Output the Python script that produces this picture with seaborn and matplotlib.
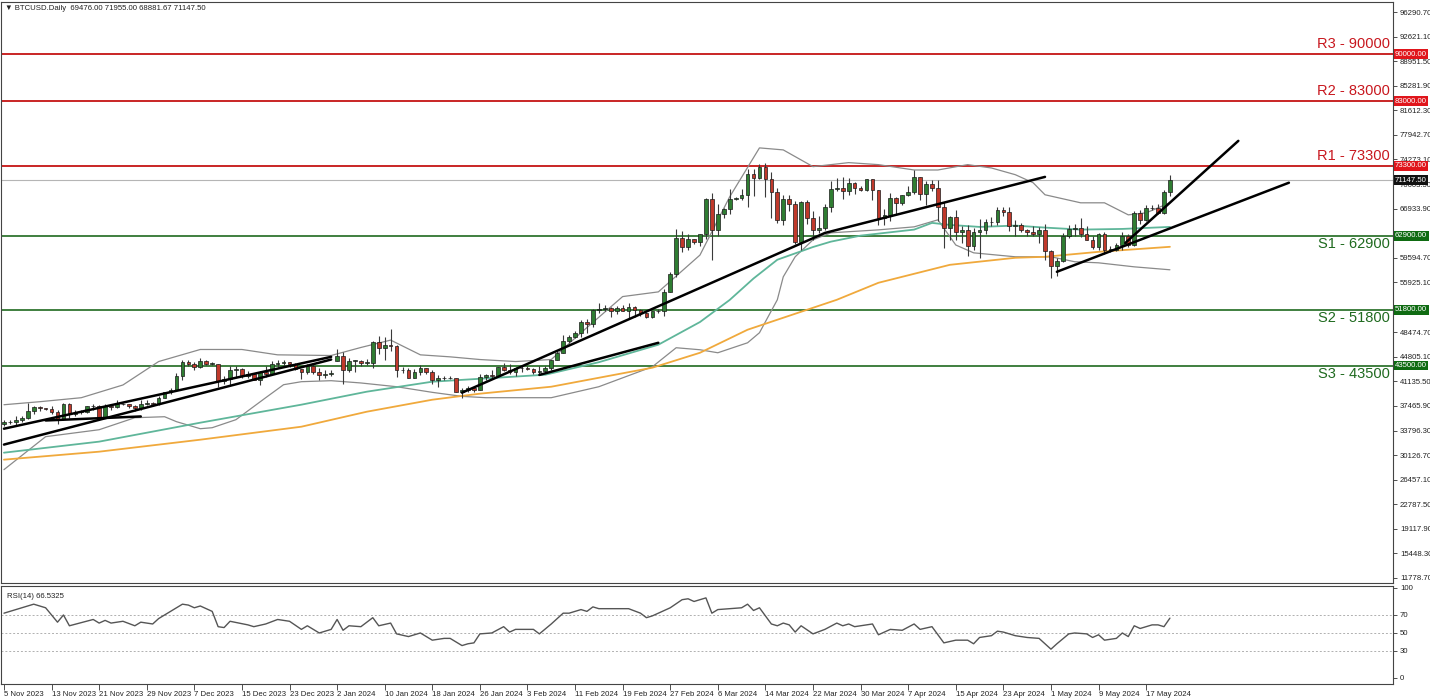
# BTCUSD daily chart with support / resistance levels, Bollinger bands, MAs and RSI(14)

import numpy as np
import pandas as pd
import matplotlib
matplotlib.use('Agg')
import matplotlib.pyplot as plt
import seaborn as sns

# daily bars 5 Nov 2023 - 21 May 2024, the feed has no bar on 25 Dec and 1 Jan
dates = pd.date_range('2023-11-05', '2024-05-21', freq='D')
dates = dates[~dates.isin(pd.to_datetime(['2023-12-25', '2024-01-01']))]

# prices in thousands of USD, by month
opens = [34.7, 35.0, 35.0, 35.4, 35.6, 36.7, 37.3, 37.1, 37.0, 36.5, 35.5, 37.8, 36.2, 36.6, 36.6, 37.4, 37.5, 35.8, 37.4, 37.3, 37.7, 37.8, 37.5, 37.2, 37.8, 37.9,
         37.7, 38.7, 39.5, 39.9, 41.9, 44.1, 43.8, 43.3, 44.2, 43.8, 43.8, 41.2, 41.5, 42.9, 43.0, 41.9, 42.3, 41.4, 42.6, 42.3, 43.7, 43.9, 44.0, 43.7, 43.0, 42.5, 43.4, 42.6, 42.1, 42.3,
         44.2, 45.0, 42.8, 44.2, 44.2, 43.9, 43.9, 47.0, 46.1, 46.6, 46.4, 42.9, 42.8, 41.7, 42.5, 43.2, 42.6, 41.3, 41.6, 41.7, 41.6, 39.5, 39.9, 40.1, 39.9, 41.8, 42.1, 42.0, 43.3, 42.9,
         42.6, 43.1, 43.2, 43.0, 42.6, 42.7, 43.1, 44.3, 45.3, 47.1, 47.8, 48.3, 50.0, 49.7, 51.8, 52.0, 52.1, 51.6, 52.1, 51.7, 52.2, 51.8, 51.3, 50.7, 51.6, 51.7, 54.5, 57.1, 62.5,
         61.2, 62.4, 62.0, 63.1, 68.3, 63.8, 66.1, 66.9, 68.3, 68.5, 69.0, 72.1, 71.5, 73.1, 71.4, 69.4, 65.3, 68.4, 67.6, 61.9, 67.9, 65.5, 63.8, 64.0, 67.2, 69.9, 70.0, 69.5, 70.8, 70.0, 69.7,
         71.3, 69.7, 65.5, 66.0, 68.5, 67.8, 68.9, 69.4, 71.6, 69.1, 70.6, 70.0, 67.1, 64.0, 65.7, 63.4, 63.8, 61.3, 63.5, 63.8, 64.9, 64.9, 66.8, 66.4, 64.3, 64.5, 63.8, 63.4, 63.1, 63.8,
         60.6, 58.3, 59.1, 62.9, 63.9, 64.0, 63.1, 62.3, 61.2, 63.1, 60.8, 60.8, 61.5, 62.9, 61.5, 66.3, 65.2, 67.0, 67.0, 66.3, 69.476]
highs = [35.3, 35.3, 35.9, 35.9, 37.9, 37.5, 37.4, 37.2, 37.4, 36.8, 37.9, 37.9, 36.8, 36.8, 37.5, 37.8, 37.6, 37.8, 37.7, 38.4, 37.9, 37.8, 37.6, 38.4, 38.4, 38.1,
         38.9, 39.6, 40.2, 42.4, 44.4, 44.3, 44.0, 44.7, 44.4, 44.1, 43.8, 42.0, 43.4, 43.4, 43.1, 42.7, 42.4, 42.7, 43.4, 44.2, 44.3, 44.4, 44.0, 43.9, 43.0, 43.7, 43.8, 43.1, 42.9, 42.9,
         45.9, 45.5, 44.7, 44.4, 44.3, 44.5, 47.2, 47.9, 47.7, 48.9, 46.5, 43.3, 43.1, 43.0, 43.6, 43.2, 42.9, 42.1, 41.9, 41.9, 41.7, 40.1, 40.5, 40.2, 42.2, 42.2, 42.8, 43.3, 43.9, 43.7,
         43.3, 43.5, 43.4, 43.1, 43.5, 43.4, 44.4, 45.6, 48.1, 48.0, 48.6, 50.3, 50.4, 52.0, 52.8, 52.6, 52.2, 52.4, 52.5, 52.9, 52.4, 52.0, 51.5, 51.7, 51.9, 54.9, 57.5, 63.9, 63.6,
         63.1, 62.4, 63.2, 68.5, 69.2, 67.6, 67.0, 69.9, 68.6, 69.9, 72.8, 72.9, 73.6, 73.8, 72.4, 70.0, 68.9, 68.9, 68.1, 68.1, 68.2, 66.6, 65.9, 67.6, 71.1, 71.5, 71.6, 71.5, 70.9, 70.3, 71.4,
         71.3, 69.7, 66.9, 69.3, 68.7, 69.0, 70.3, 72.7, 71.7, 71.1, 71.2, 71.2, 67.9, 65.8, 66.8, 64.3, 64.5, 64.1, 65.4, 65.4, 65.7, 67.2, 67.2, 67.1, 65.3, 64.8, 63.9, 64.3, 64.2, 64.7,
         60.8, 59.6, 63.3, 64.5, 64.6, 65.5, 64.4, 62.9, 63.3, 63.4, 61.4, 61.8, 63.4, 63.1, 66.6, 66.7, 67.4, 67.4, 67.6, 69.7, 71.955]
lows = [34.5, 34.7, 34.5, 35.1, 35.5, 36.3, 36.7, 36.8, 36.3, 34.8, 35.4, 35.6, 35.9, 36.2, 36.4, 36.8, 35.7, 35.7, 36.9, 37.2, 37.6, 37.2, 36.7, 36.9, 37.6, 37.5,
        37.6, 38.6, 39.3, 39.9, 41.4, 43.4, 42.8, 43.1, 43.6, 43.6, 40.3, 40.7, 40.6, 41.8, 41.7, 41.7, 41.3, 40.6, 41.8, 42.2, 43.3, 43.5, 43.3, 42.9, 41.5, 42.3, 42.3, 41.3, 41.6, 42.0,
        44.2, 40.8, 42.6, 42.6, 43.4, 43.6, 43.2, 45.2, 44.3, 45.6, 41.8, 42.4, 41.7, 41.7, 42.1, 42.2, 40.7, 40.3, 41.4, 41.5, 39.5, 38.6, 39.5, 39.5, 39.8, 41.4, 41.6, 41.8, 42.7, 42.3,
        41.9, 42.6, 42.9, 42.2, 42.3, 42.6, 42.8, 44.3, 45.3, 46.8, 47.6, 47.7, 48.4, 49.3, 51.3, 51.6, 50.7, 51.2, 51.7, 50.6, 50.8, 50.9, 50.6, 50.6, 51.3, 50.9, 54.5, 56.7, 60.4,
        60.8, 61.7, 61.3, 62.4, 59.2, 62.9, 65.6, 66.1, 68.2, 68.2, 67.2, 68.8, 71.3, 68.6, 65.6, 64.8, 64.5, 66.6, 61.6, 60.8, 64.6, 62.3, 63.3, 63.8, 66.4, 69.5, 68.4, 68.9, 69.1, 69.6, 69.6,
        68.2, 64.5, 64.5, 65.1, 66.0, 67.5, 68.8, 69.1, 68.2, 67.5, 69.6, 65.1, 61.0, 62.3, 62.3, 61.8, 59.8, 60.8, 59.6, 63.2, 64.3, 64.5, 65.8, 63.6, 62.8, 63.4, 62.8, 62.8, 61.8, 59.2,
        56.6, 56.9, 58.9, 62.6, 62.9, 62.7, 62.3, 60.9, 60.7, 60.2, 60.5, 60.6, 60.8, 61.2, 61.3, 64.6, 65.1, 66.7, 66.1, 66.2, 68.882]
closes = [35.0, 35.0, 35.4, 35.6, 36.7, 37.3, 37.1, 37.0, 36.5, 35.5, 37.8, 36.2, 36.6, 36.6, 37.4, 37.5, 35.8, 37.4, 37.3, 37.7, 37.8, 37.5, 37.2, 37.8, 37.9, 37.7,
          38.7, 39.5, 39.9, 41.9, 44.1, 43.8, 43.3, 44.2, 43.8, 43.8, 41.2, 41.5, 42.9, 43.0, 41.9, 42.3, 41.4, 42.6, 42.3, 43.7, 43.9, 44.0, 43.7, 43.0, 42.5, 43.4, 42.6, 42.1, 42.3, 42.3,
          45.0, 42.8, 44.2, 44.2, 43.9, 43.9, 47.0, 46.1, 46.6, 46.4, 42.9, 42.8, 41.7, 42.5, 43.2, 42.6, 41.3, 41.6, 41.7, 41.6, 39.5, 39.9, 40.1, 39.9, 41.8, 42.1, 42.0, 43.3, 42.9, 42.6,
          43.1, 43.2, 43.0, 42.6, 42.7, 43.1, 44.3, 45.3, 47.1, 47.8, 48.3, 50.0, 49.7, 51.8, 52.0, 52.1, 51.6, 52.1, 51.7, 52.2, 51.8, 51.3, 50.7, 51.6, 51.7, 54.5, 57.1, 62.5, 61.2,
          62.4, 62.0, 63.1, 68.3, 63.8, 66.1, 66.9, 68.3, 68.5, 69.0, 72.1, 71.5, 73.1, 71.4, 69.4, 65.3, 68.4, 67.6, 61.9, 67.9, 65.5, 63.8, 64.0, 67.2, 69.9, 70.0, 69.5, 70.8, 70.0, 69.7, 71.3,
          69.7, 65.5, 66.0, 68.5, 67.8, 68.9, 69.4, 71.6, 69.1, 70.6, 70.0, 67.1, 64.0, 65.7, 63.4, 63.8, 61.3, 63.5, 63.8, 64.9, 64.9, 66.8, 66.4, 64.3, 64.5, 63.8, 63.4, 63.1, 63.8, 60.6,
          58.3, 59.1, 62.9, 63.9, 64.0, 63.1, 62.3, 61.2, 63.1, 60.8, 60.8, 61.5, 62.9, 61.5, 66.3, 65.2, 67.0, 67.0, 66.3, 69.476, 71.1475]

# indicator lines (bar number, thousands of USD)
ma_slow_bar = [0, 16, 33, 50, 61, 72, 80, 92, 109, 117, 125, 140, 147, 159, 170, 175, 184, 196]
ma_slow = [29.45, 30.64, 32.43, 34.37, 36.61, 38.40, 39.30, 40.34, 43.18, 45.41, 48.85, 53.32, 55.86, 58.54, 59.59, 59.74, 60.48, 61.23]
ma_fast_bar = [0, 16, 33, 50, 61, 72, 91, 100, 110, 117, 122, 126, 130, 136, 139, 144, 147, 153, 156, 159, 164, 170, 175, 181, 188, 196]
ma_fast = [30.49, 32.14, 34.97, 37.66, 39.60, 41.09, 42.13, 44.0, 46.61, 50.0, 53.3, 56.5, 59.3, 61.2, 62.0, 62.9, 63.2, 63.8, 64.8, 64.5, 64.2, 64.4, 64.1, 63.8, 63.9, 64.2]
bb_up_bar = [0, 6, 13, 20, 26, 33, 40, 46, 55, 60, 65, 70, 75, 80, 86, 92, 97, 104, 110, 117, 122, 127, 131, 136, 142, 147, 153, 157, 162, 166, 170, 173, 175, 181, 185, 189, 192, 196]
bb_up = [37.65, 38.1, 38.7, 40.6, 44.1, 45.9, 45.9, 45.1, 45.0, 46.2, 47.3, 45.1, 44.8, 44.4, 44.1, 44.4, 48.4, 53.8, 54.5, 60.0, 68.7, 76.0, 75.7, 73.2, 73.8, 73.5, 72.7, 72.7, 73.5, 73.0, 72.0, 70.8, 69.0, 67.8, 67.8, 66.0, 66.3, 67.8]
bb_lo_bar = [0, 7, 16, 22, 27, 29, 33, 35, 39, 44, 47, 50, 55, 60, 66, 72, 77, 81, 92, 100, 109, 113, 117, 120, 125, 127, 130, 131, 133, 136, 139, 147, 153, 157, 160, 163, 170, 176, 180, 184, 190, 196]
bb_lo = [27.96, 32.88, 33.92, 35.71, 35.86, 35.12, 34.07, 34.22, 35.42, 38.70, 40.64, 41.09, 41.24, 40.9, 40.34, 39.5, 38.9, 38.7, 38.7, 40.34, 43.32, 46.16, 45.86, 45.41, 46.90, 48.40, 53.32, 56.75, 59.74, 62.27, 63.32, 63.76, 64.21, 65.26, 61.5, 60.33, 59.74, 59.74, 59.0, 58.84, 58.24, 57.80]

# hand drawn trend lines: bar numbers and prices of their vertices
trend_bars = [[0, 55], [0, 55], [7, 23], [77, 138, 175], [90, 110], [177, 216], [188.5, 207.5]]
trend_px = [[34.07, 44.8], [31.7, 44.4], [35.3, 35.9], [39.45, 63.3, 71.67], [42.1, 46.9], [57.5, 70.8], [61.8, 77.05]]

# RSI(14)
rsi_bar = [0, 2, 5, 7, 9, 10, 11, 15, 16, 17, 18, 20, 22, 23, 25, 26, 27, 30, 31, 32, 33, 35, 36, 37, 38, 41, 42, 44, 46, 48,
           50, 51, 53, 55, 56, 57, 58, 60, 62, 63, 65, 66, 68, 70, 72, 74, 75, 77, 78, 79, 80, 82, 84, 85, 86, 89, 90, 92, 94, 95,
           97, 98, 99, 100, 105, 107, 108, 109, 112, 114, 115, 116, 118, 119, 120, 122, 124, 125, 126, 127, 129, 130, 131, 132, 133, 134, 136, 138, 140, 141,
           142, 143, 146, 147, 149, 151, 153, 154, 156, 158, 160, 162, 163, 164, 166, 167, 168, 170, 172, 174, 176, 177, 179, 180, 182, 183, 184, 185, 187, 188,
           189, 190, 191, 193, 194, 195, 196]
rsi = [72, 76, 82, 78, 62, 70, 58, 65, 61, 64, 61, 63, 58, 62, 60, 66, 70, 82, 81, 78, 80, 74, 57, 56, 63, 59, 57, 60, 65, 63,
       54, 58, 50, 54, 65, 53, 58, 57, 67, 58, 61, 49, 46, 50, 42, 44, 44, 36, 38, 39, 49, 50, 57, 51, 54, 54, 49, 60, 72, 72,
       76, 74, 79, 77, 77, 72, 67, 69, 78, 87, 88, 85, 89, 72, 76, 77, 78, 82, 75, 78, 60, 58, 61, 59, 51, 58, 49, 54, 61, 58,
       60, 57, 60, 48, 54, 53, 60, 54, 57, 39, 42, 42, 38, 45, 47, 52, 51, 47, 45, 44, 32, 38, 49, 50, 49, 45, 48, 42, 44, 50,
       46, 58, 55, 59, 59, 57, 66.5]

resist = [90000, 83000, 73300]
resist_names = ['R3', 'R2', 'R1']
support = [62900, 51800, 43500]
support_names = ['S1', 'S2', 'S3']
last_price = 71147.50
price_ticks = [96290.70, 92621.10, 88951.50, 85281.90, 81612.30, 77942.70, 74273.10, 70603.50, 66933.90,
               59594.70, 55925.10, 48474.70, 44805.10, 41135.50, 37465.90, 33796.30, 30126.70, 26457.10, 22787.50,
               19117.90, 15448.30, 11778.70]

df = pd.DataFrame({'bar': np.arange(len(dates)), 'open': opens, 'high': highs, 'low': lows, 'close': closes})
df[['open', 'high', 'low', 'close']] *= 1000
up = df.close >= df.open

sns.set_style('white')
plt.rcParams['font.family'] = ['Liberation Sans', 'DejaVu Sans']

W, H = 1430, 699
fig = plt.figure(figsize=(W / 100, H / 100), dpi=100)
ax = fig.add_axes([1 / W, 1 - 583 / H, 1392 / W, 581 / H])
axr = fig.add_axes([1 / W, 1 - 684 / H, 1392 / W, 98 / H], sharex=ax)

# levels
for lv in resist:
    ax.axhline(lv, color='#c00000', lw=1.2, zorder=1)
for lv in support:
    ax.axhline(lv, color='#1f6a1f', lw=1.2, zorder=1)
ax.axhline(last_price, color='#b5b5b5', lw=0.8, zorder=1)

# indicators
sns.lineplot(x=bb_up_bar, y=np.array(bb_up) * 1000, ax=ax, color='#8a8a8a', lw=0.9)
sns.lineplot(x=bb_lo_bar, y=np.array(bb_lo) * 1000, ax=ax, color='#8a8a8a', lw=0.9)
sns.lineplot(x=ma_fast_bar, y=np.array(ma_fast) * 1000, ax=ax, color='#5fb69a', lw=1.3)
sns.lineplot(x=ma_slow_bar, y=np.array(ma_slow) * 1000, ax=ax, color='#f0a93c', lw=1.3)

# candles
ax.vlines(df.bar, df.low, df.high, color='#3a3a3a', lw=0.8, zorder=3)
body = (df.close - df.open).abs().clip(lower=60)
bottom = df[['open', 'close']].min(axis=1)
ax.bar(df.bar[up], body[up], bottom=bottom[up], width=0.62, color='#2f7d32',
       edgecolor='#1b1b1b', lw=0.5, zorder=4)
ax.bar(df.bar[~up], body[~up], bottom=bottom[~up], width=0.62, color='#c0392b',
       edgecolor='#1b1b1b', lw=0.5, zorder=4)

# trend lines
for tb, tp in zip(trend_bars, trend_px):
    ax.plot(tb, np.array(tp) * 1000, color='black', lw=1.8, zorder=5, solid_capstyle='round')

# level captions
for name, lv in zip(resist_names, resist):
    ax.annotate(f'{name} - {lv}', xy=(0.998, lv), xycoords=('axes fraction', 'data'),
                xytext=(0, 2), textcoords='offset points', ha='right', va='bottom',
                fontsize=10.5, color='#c8171e')
for name, lv in zip(support_names, support):
    ax.annotate(f'{name} - {lv}', xy=(0.998, lv), xycoords=('axes fraction', 'data'),
                xytext=(0, -1), textcoords='offset points', ha='right', va='top',
                fontsize=10.5, color='#1f6a1f')

ax.set_xlim(-0.5, 233.5)
ax.set_ylim(11032, 97784)
ax.yaxis.tick_right()
ax.set_yticks(price_ticks)
ax.set_yticklabels([f'{v:.2f}' for v in price_ticks])
ax.tick_params(axis='y', labelsize=5.6, length=3, width=0.6, color='#333333', labelcolor='#222222', pad=2, right=True)
ax.tick_params(axis='x', length=0, labelbottom=False)
ax.set_xlabel('')
ax.set_ylabel('')

# price tags on the axis
tags = [(lv, '#e0151b') for lv in resist] + [(lv, '#0f6b12') for lv in support] + [(last_price, '#111111')]
for lv, c in tags:
    ax.text(1.0015, lv, f'{lv:.2f}', transform=ax.get_yaxis_transform(), ha='left', va='center',
            fontsize=5.6, color='white', clip_on=False, zorder=10,
            bbox=dict(boxstyle='square,pad=0.18', fc=c, ec='none'))

fig.text(5 / W, 1 - 8 / H, '\u25bc BTCUSD.Daily  69476.00 71955.00 68881.67 71147.50',
         fontsize=5.6, va='center', color='#222222')

# RSI panel
for lv in [70, 50, 30]:
    axr.axhline(lv, color='#b0b0b0', lw=0.7, ls=(0, (2, 2)))
sns.lineplot(x=rsi_bar, y=rsi, ax=axr, color='#555555', lw=1.0)
axr.set_ylim(-6.7, 102.2)
axr.yaxis.tick_right()
axr.set_yticks([0, 30, 50, 70, 100])
axr.tick_params(axis='y', labelsize=5.6, length=3, width=0.6, color='#333333', labelcolor='#222222', pad=2, right=True)
axr.text(0.004, 0.93, 'RSI(14) 66.5325', transform=axr.transAxes, fontsize=5.6, va='top', color='#222222')

xt = np.arange(0, len(dates), 8)
axr.set_xticks(xt)
axr.set_xticklabels([f'{dates[i].day} {dates[i].strftime("%b %Y")}' for i in xt], ha='left')
axr.tick_params(axis='x', labelsize=5.6, length=4, width=0.6, color='#333333', labelcolor='#222222', pad=1, bottom=True)
axr.set_xlabel('')
axr.set_ylabel('')

for a in (ax, axr):
    for s in a.spines.values():
        s.set_color('#444444')
        s.set_linewidth(0.8)

fig.savefig('out.png', dpi=100)
plt.close()
